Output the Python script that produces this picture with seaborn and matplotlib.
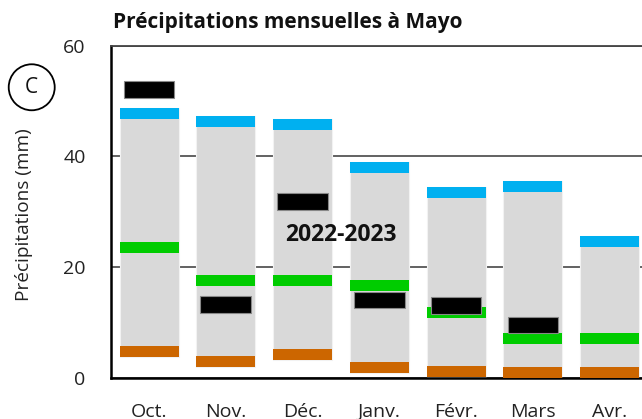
import numpy as np
import pandas as pd
import matplotlib
matplotlib.use('Agg')
import matplotlib.pyplot as plt
import seaborn as sns

# Mois (octobre à avril)
mois = ['Oct.', 'Nov.', 'Déc.', 'Janv.', 'Févr.', 'Mars', 'Avr.']

# Valeurs (mm)
maxi = [47.7, 46.3, 45.8, 38.0, 33.5, 34.5, 24.6]        # bleu
mediane = [23.5, 17.6, 17.6, 16.7, 11.7, 7.1, 7.1]       # vert
mini = [4.75, 2.85, 4.2, 1.8, 1.2, 0.9, 0.9]             # orange
saison = [52.0, 13.2, 31.8, 14.0, 13.0, 9.5, np.nan]     # noir, 2022-2023

sns.set_theme(style='white')
plt.rcParams['font.family'] = ['Open Sans', 'DejaVu Sans']

fig = plt.figure(figsize=(6.42, 4.19), dpi=100)
ax = fig.add_axes([0.1724, 0.0986, 0.837, 0.7928])

h = 2.0     # épaisseur des bandes colorées
hn = 3.0    # épaisseur des rectangles noirs

df = pd.DataFrame({'mois': mois, 'maxi': maxi, 'mediane': mediane,
                   'mini': mini, 'saison': saison})
df['bas'] = df['mini'] - h / 2
df['etendue'] = df['maxi'] + h / 2 - df['bas']

# Barres grises : de min à max
sns.barplot(data=df, x='mois', y='etendue', bottom=df['bas'], color='#d9d9d9',
            saturation=1, width=0.77, edgecolor='#f2f2f2', linewidth=0.8, ax=ax, zorder=2)

# Bandes colorées
for col, couleur in [('maxi', '#00b0f0'), ('mediane', '#00cc00'), ('mini', '#cc6600')]:
    sns.barplot(x=df['mois'], y=[h] * len(df), bottom=df[col] - h / 2, color=couleur,
                saturation=1, width=0.77, linewidth=0, ax=ax, zorder=3)

# Rectangles noirs : saison 2022-2023
ok = df['saison'].notna()
ax.bar(np.arange(len(df))[ok], hn, bottom=df.loc[ok, 'saison'] - hn / 2, width=0.66,
       color='black', edgecolor='#888888', linewidth=0.8, zorder=4)

ax.text(2.5, 25.7, '2022-2023', ha='center', va='center', fontsize=16.5,
        fontweight='bold', color='#111111', zorder=5)

ax.set_xlim(-0.5, 6.5)
ax.set_ylim(0, 60)
ax.set_yticks([0, 20, 40, 60])
ax.yaxis.grid(True, color='#555555', linewidth=1.3)
ax.set_axisbelow(True)
ax.tick_params(axis='both', length=0, labelsize=14, colors='#222222', pad=18)
ax.set_xlabel('')
ax.set_ylabel('Précipitations (mm)', fontsize=13.7, color='#222222')
ax.yaxis.set_label_coords(-0.145, 0.49)

for side in ['left', 'bottom']:
    ax.spines[side].set_color('black')
    ax.spines[side].set_linewidth(1.8)
ax.spines['top'].set_color('#444444')
ax.spines['top'].set_linewidth(1.3)
ax.spines['right'].set_visible(False)

fig.text(0.176, 0.946, 'Précipitations mensuelles à Mayo', ha='left', va='center',
         fontsize=15, fontweight='bold', color='#111111')

fig.text(0.0494, 0.7917, 'C', ha='center', va='center', fontsize=15, color='#111111',
         bbox=dict(boxstyle='circle,pad=0.6', fc='white', ec='black', lw=1.3))

fig.savefig('out.png', dpi=100)
